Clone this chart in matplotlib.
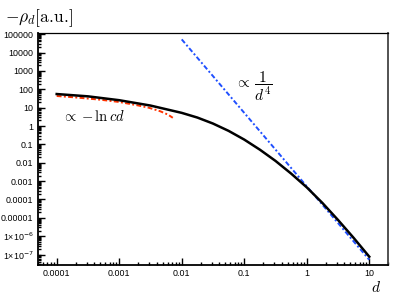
import matplotlib
matplotlib.use("Agg")
import matplotlib.pyplot as plt
import numpy as np

plt.rcParams['mathtext.fontset'] = 'cm'

# full result -rho_d
d_full = [1e-4, 3.16e-4, 1e-3, 3.16e-3, 0.01, 0.0178, 0.0316, 0.0562, 0.1,
          0.178, 0.316, 0.562, 1.0, 1.78, 3.16, 5.62, 10.0]
rho_full = [55.0, 41.2, 25.4, 13.0, 5.19, 2.88, 1.36, 0.543, 0.182,
            0.0513, 0.0126, 2.57e-3, 4.57e-4, 6.46e-5, 7.67e-6, 8.13e-7, 7.67e-8]

# small-d asymptote  ~ -ln(cd)
d_log = [1e-4, 2e-4, 5e-4, 1e-3, 2e-3, 3e-3, 4.5e-3, 6e-3, 7.2e-3]
rho_log = [43, 36, 27, 20.3, 13.2, 9.8, 6.4, 4.2, 2.8]

# large-d asymptote ~ 1/d^4
d_pow = [0.01, 10.0]
rho_pow = [5.2e4, 5.2e-8]

y_ticks = [1e-7, 1e-6, 1e-5, 1e-4, 1e-3, 1e-2, 0.1, 1, 10, 100, 1e3, 1e4, 1e5]
y_labels = [r'1×10$^{-7}$', r'1×10$^{-6}$', '0.00001', '0.0001', '0.001', '0.01',
            '0.1', '1', '10', '100', '1000', '10000', '100000']
x_ticks = [1e-4, 1e-3, 1e-2, 0.1, 1, 10]
x_labels = ['0.0001', '0.001', '0.01', '0.1', '1', '10']

fig = plt.figure(figsize=(4.07, 3.05), dpi=100)
ax = fig.add_axes([0.0926, 0.131, 0.954 - 0.0926, 0.891 - 0.131])

ax.plot(d_full, rho_full, color='black', lw=1.8, zorder=3)
ax.plot(d_log, rho_log, color='#ff3300', lw=1.4, ls=(0, (2.5, 1.2, 1, 1.2)), zorder=2)
ax.plot(d_pow, rho_pow, color='#1f4fff', lw=1.4, ls=(0, (2.5, 1.2, 1, 1.2)), zorder=2)

ax.set_xscale('log')
ax.set_yscale('log')
ax.set_xlim(10**-4.304, 10**1.304)
ax.set_ylim(10**-7.57, 10**5.05)

ax.set_xticks(x_ticks)
ax.set_xticklabels(x_labels)
ax.set_yticks(y_ticks)
ax.set_yticklabels(y_labels)
ax.yaxis.set_minor_locator(matplotlib.ticker.LogLocator(base=10, subs=np.arange(2, 10), numticks=30))
ax.xaxis.set_minor_locator(matplotlib.ticker.LogLocator(base=10, subs=np.arange(2, 10), numticks=30))
ax.yaxis.set_minor_formatter(matplotlib.ticker.NullFormatter())
ax.xaxis.set_minor_formatter(matplotlib.ticker.NullFormatter())

ax.tick_params(which='both', direction='in', top=False, right=False, width=1.0)
ax.tick_params(which='major', length=5, labelsize=6.4, pad=3)
ax.tick_params(which='minor', length=2.5)
for lab in ax.get_xticklabels() + ax.get_yticklabels():
    lab.set_fontfamily('Liberation Sans')
    lab.set_math_fontfamily('dejavusans')

for s in ['left', 'bottom']:
    ax.spines[s].set_linewidth(1.3)
ax.spines['top'].set_linewidth(0.9)
ax.spines['right'].set_linewidth(1.3)
ax.spines['right'].set_color('#444444')

fig.text(0.012, 0.942, r'$-\rho_d[\mathrm{a.\!u.\!}]$', fontsize=12.5, va='center', ha='left')
fig.text(376 / 407, 1 - 287 / 305, r'$d$', fontsize=11, va='center', ha='center')
ax.text(1.22e-4, 3.2, r'$\propto -\ln cd$', fontsize=10.5, va='center', ha='left')
ax.text(0.072, 150, r'$\propto\,\dfrac{1}{d^4}$', fontsize=11, va='center', ha='left')

fig.savefig('out.png', dpi=100)
